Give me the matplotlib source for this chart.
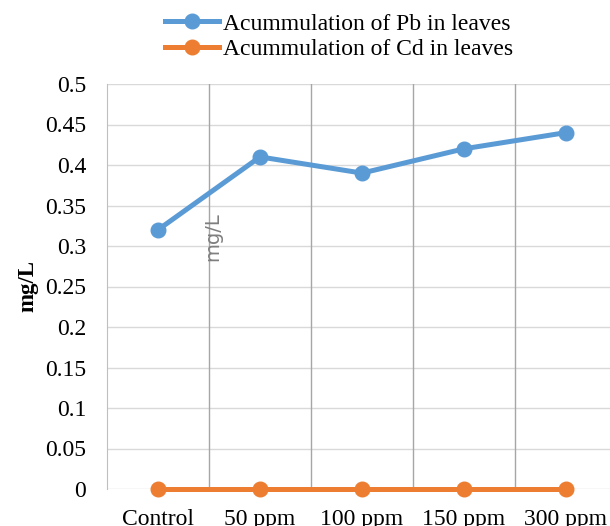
import matplotlib
matplotlib.use("Agg")
import matplotlib.pyplot as plt

categories = ["Control", "50 ppm", "100 ppm", "150 ppm", "300 ppm"]
pb_leaves = [0.32, 0.41, 0.39, 0.42, 0.44]
cd_leaves = [0.0, 0.0, 0.0, 0.0, 0.0]
yticks = [0, 0.05, 0.1, 0.15, 0.2, 0.25, 0.3, 0.35, 0.4, 0.45, 0.5]
ytick_labels = ["0", "0.05", "0.1", "0.15", "0.2", "0.25", "0.3", "0.35", "0.4", "0.45", "0.5"]

plt.rcParams['font.family'] = ['Liberation Serif', 'DejaVu Serif']

fig = plt.figure(figsize=(6.1, 5.26), dpi=100)
ax = fig.add_axes([107/610, 37/526, 510/610, 405/526])

x = list(range(len(categories)))
l1, = ax.plot(x, pb_leaves, color="#5B9BD5", lw=3.6, marker="o", ms=10.5,
              label="Acummulation of Pb in leaves", zorder=3)
l2, = ax.plot(x, cd_leaves, color="#ED7D31", lw=3.6, marker="o", ms=10.5,
              label="Acummulation of Cd in leaves", zorder=3, clip_on=False)

ax.set_xlim(-0.5, len(categories) - 0.5)
ax.set_ylim(0, 0.5)
ax.set_yticks(yticks)
ax.set_yticklabels(ytick_labels)
ax.set_xticks(x)
ax.set_xticklabels(categories)
ax.tick_params(axis='both', length=0, labelsize=17)
ax.tick_params(axis='y', pad=15)
ax.tick_params(axis='x', pad=14.5)

for yv in yticks:
    ax.axhline(yv, color="#D9D9D9", lw=1, zorder=1)
for b in range(len(categories) - 1):
    ax.axvline(b + 0.5, color="#A6A6A6", lw=1, zorder=1)

for s in ["top", "right", "bottom"]:
    ax.spines[s].set_visible(False)
ax.spines["left"].set_color("#BFBFBF")

ax.set_ylabel("mg/L", fontsize=16.5, fontweight="bold", labelpad=5)

fig.text(213/610, 1 - 237/526, "mg/L", rotation=90, color="#7F7F7F",
         fontsize=14, family=["DejaVu Sans"], ha="center", va="center")

fig.legend(handles=[l1, l2], loc="center", bbox_to_anchor=(339/610, 1 - 36.5/526),
           frameon=False, fontsize=17, handlelength=2.3, handletextpad=0.15,
           labelspacing=0.15, borderpad=0)

fig.savefig("out.png", dpi=100)
